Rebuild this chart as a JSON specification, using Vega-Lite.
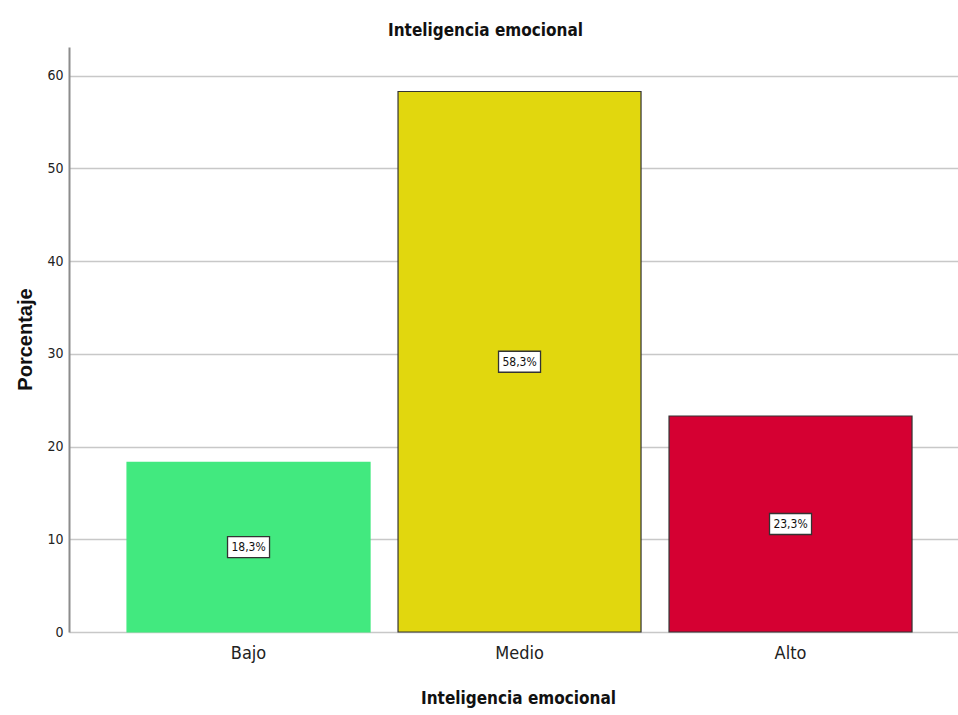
{
  "$schema": "https://vega.github.io/schema/vega-lite/v6.json",
  "autosize": {"type": "none"},
  "width": 889,
  "height": 585,
  "padding": {"left": 69, "top": 47, "right": 0, "bottom": 83},
  "background": "white",
  "config": {"view": {"stroke": null}},
  "title": {
    "text": "Inteligencia emocional",
    "font": "'DejaVu Sans Condensed', 'Liberation Sans', sans-serif",
    "fontSize": 17,
    "fontWeight": "bold",
    "color": "#111",
    "anchor": "middle",
    "dx": -28,
    "offset": 7
  },
  "data": {
    "values": [
      {"nivel": "Bajo", "pct": 18.3, "etiqueta": "18,3%"},
      {"nivel": "Medio", "pct": 58.3, "etiqueta": "58,3%"},
      {"nivel": "Alto", "pct": 23.3, "etiqueta": "23,3%"}
    ]
  },
  "transform": [{"calculate": "datum.pct / 2", "as": "mid"}],
  "encoding": {
    "x": {
      "field": "nivel",
      "type": "nominal",
      "sort": ["Bajo", "Medio", "Alto"],
      "scale": {"paddingInner": 0.1033, "paddingOuter": 0.1919, "align": 0.558},
      "axis": {
        "title": "Inteligencia emocional",
        "titleFont": "'DejaVu Sans Condensed', 'Liberation Sans', sans-serif",
        "titleFontSize": 17,
        "titleFontWeight": "bold",
        "titleColor": "#111",
        "titleX": 449,
        "titleY": 58,
        "labelAngle": 0,
        "labelFont": "'DejaVu Sans Condensed', 'Liberation Sans', sans-serif",
        "labelFontSize": 18,
        "labelFontWeight": "normal",
        "labelColor": "#222",
        "labelPadding": 12,
        "domain": false,
        "ticks": false,
        "grid": false
      }
    }
  },
  "layer": [
    {
      "mark": {"type": "bar", "strokeWidth": 1.2},
      "encoding": {
        "y": {
          "field": "pct",
          "type": "quantitative",
          "scale": {"domain": [0, 63.1], "nice": false},
          "axis": {
            "title": "Porcentaje",
            "titleFont": "Liberation Sans",
            "titleFontSize": 20,
            "titleFontWeight": "bold",
            "titleColor": "#111",
            "titleX": -34,
            "titleY": 292,
            "values": [0, 10, 20, 30, 40, 50, 60],
            "labelFont": "'DejaVu Sans Condensed', 'Liberation Sans', sans-serif",
            "labelFontSize": 14,
            "labelColor": "#222",
            "labelPadding": 6,
            "ticks": false,
            "domainColor": "#8c8c8c",
            "domainWidth": 2,
            "gridColor": "#c8c8c8",
            "gridWidth": 1.5
          }
        },
        "fill": {
          "field": "nivel",
          "type": "nominal",
          "scale": {"domain": ["Bajo", "Medio", "Alto"], "range": ["#42E97F", "#E1D70E", "#D50032"]},
          "legend": null
        },
        "stroke": {
          "field": "nivel",
          "type": "nominal",
          "scale": {"domain": ["Bajo", "Medio", "Alto"], "range": ["#42E97F", "#333333", "#333333"]},
          "legend": null
        }
      }
    },
    {
      "mark": {
        "type": "point",
        "shape": "M-1,-0.5H1V0.5H-1Z",
        "size": 1764,
        "filled": true,
        "fill": "white",
        "stroke": "#333333",
        "strokeWidth": 1.3,
        "opacity": 1
      },
      "encoding": {
        "y": {"field": "mid", "type": "quantitative"}
      }
    },
    {
      "mark": {
        "type": "text",
        "font": "'DejaVu Sans Condensed', 'Liberation Sans', sans-serif",
        "fontSize": 12,
        "color": "#111",
        "baseline": "middle",
        "align": "center"
      },
      "encoding": {
        "y": {"field": "mid", "type": "quantitative"},
        "text": {"field": "etiqueta"}
      }
    }
  ]
}
